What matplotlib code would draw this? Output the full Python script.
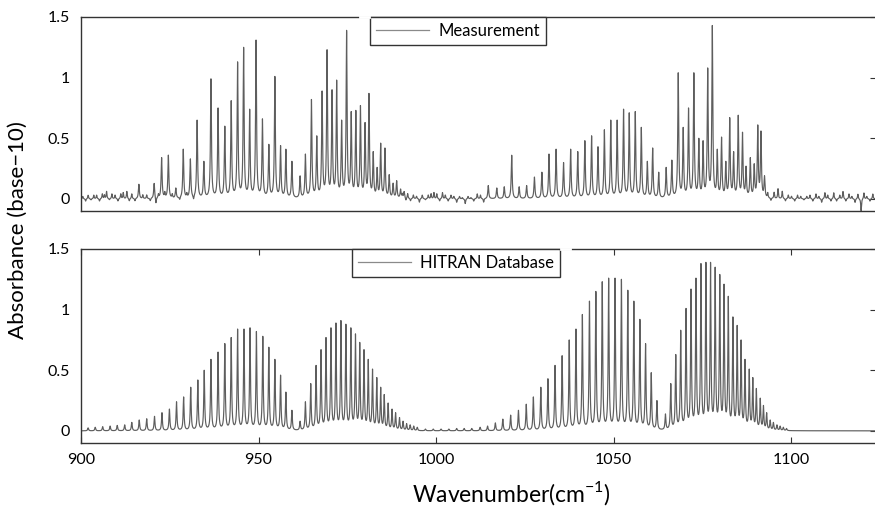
import numpy as np
import matplotlib
matplotlib.use("Agg")
import matplotlib.pyplot as plt

plt.rcParams['font.family'] = ['Lato', 'DejaVu Sans']
plt.rcParams['mathtext.fontset'] = 'custom'
plt.rcParams['mathtext.rm'] = 'Lato'

# ---------------- data ----------------
x_min, x_max = 900, 1123.9
x_ticks = [900, 950, 1000, 1050, 1100]
x_tick_labels = ['900', '950', '1000', '1050', '1100']
y_ticks = [0, 0.5, 1, 1.5]
y_tick_labels = ['0', '0.5', '1', '1.5']

# Measurement: line centres (cm^-1) and peak absorbance
meas_pos = [916.3, 920.6, 922.7, 924.6, 926.7, 928.8, 930.8, 932.7, 934.6, 936.6,
            938.6, 940.5, 942.3, 944.1, 945.8, 947.5, 949.3, 951.1, 952.9, 954.6,
            956.2, 957.7, 959.4, 961.7, 963.2, 964.9, 966.4, 967.9, 969.3, 970.7,
            972.0, 973.4, 974.8, 976.1, 977.4, 978.7, 980.0, 981.1, 982.3, 983.4,
            984.4, 985.6, 986.8, 987.9, 988.9, 990.0, 991.0,
            1014.7, 1017.1, 1019.2, 1021.3, 1023.4, 1025.5, 1027.7, 1029.8, 1031.8, 1033.8,
            1035.9, 1037.9, 1039.9, 1041.9, 1043.8, 1045.6, 1047.4, 1049.2, 1051.0, 1052.8,
            1054.4, 1056.1, 1057.8, 1059.5, 1061.0, 1062.7, 1064.8, 1066.4, 1068.2, 1069.6,
            1071.1, 1072.6, 1074.0, 1075.2, 1076.5, 1077.8, 1079.2, 1080.4, 1081.6, 1082.7,
            1083.8, 1085.1, 1086.3, 1087.3, 1088.5, 1089.6, 1090.6, 1091.5, 1092.5]
meas_peak = [0.12, 0.13, 0.34, 0.36, 0.09, 0.41, 0.33, 0.65, 0.31, 0.99,
             0.75, 0.60, 0.81, 1.13, 1.25, 0.74, 1.31, 0.66, 0.45, 1.01,
             0.44, 0.41, 0.31, 0.19, 0.37, 0.82, 0.52, 0.89, 1.23, 0.90,
             0.98, 0.65, 1.39, 0.72, 0.73, 0.77, 0.63, 0.87, 0.39, 0.26,
             0.46, 0.42, 0.20, 0.13, 0.15, 0.08, 0.06,
             0.11, 0.09, 0.10, 0.36, 0.10, 0.11, 0.18, 0.22, 0.37, 0.41,
             0.30, 0.41, 0.39, 0.48, 0.52, 0.43, 0.57, 0.65, 0.65, 0.74,
             0.71, 0.72, 0.59, 0.31, 0.42, 0.22, 0.26, 0.32, 1.04, 0.59,
             0.75, 1.04, 0.50, 0.48, 1.08, 1.43, 0.41, 0.51, 0.31, 0.67,
             0.39, 0.69, 0.55, 0.27, 0.34, 0.29, 0.61, 0.56, 0.19]

# Measurement: small baseline wiggles (estimated)
meas_noise_pos = [900.5, 901.3, 902.0, 902.8, 903.6, 904.4, 905.2, 906.0, 906.6, 907.2,
                  908.0, 908.7, 909.6, 910.4, 911.2, 911.9, 912.9, 913.6, 914.3, 915.2,
                  917.4, 918.5, 919.5, 921.1, 921.8, 923.6, 925.7, 927.8, 929.8, 931.7,
                  990.5, 991.5, 992.0, 992.8, 993.6, 994.5, 995.3, 996.1, 997.0, 997.8,
                  998.6, 999.4, 1000.2, 1001.0, 1001.8, 1002.6, 1003.4, 1004.2, 1005.0, 1005.8,
                  1006.6, 1007.4, 1008.2, 1009.0, 1009.8, 1010.6, 1011.6, 1012.5, 1013.4,
                  1093.4, 1094.3, 1095.2, 1096.3, 1097.5, 1098.4, 1099.2, 1100.1, 1101.0, 1101.8,
                  1102.7, 1103.6, 1104.4, 1105.3, 1106.1, 1107.0, 1107.8, 1108.6, 1109.5, 1110.3,
                  1111.2, 1112.0, 1112.8, 1113.7, 1114.6, 1115.4, 1116.3, 1117.1, 1118.0, 1118.8,
                  1119.7, 1120.5, 1121.3, 1122.2, 1123.0]
meas_noise_amp = [0.02, -0.02, 0.03, -0.01, 0.03, 0.03, -0.02, 0.04, 0.03, 0.06,
                  -0.01, 0.04, 0.03, -0.02, 0.04, 0.05, 0.06, -0.02, 0.04, -0.02,
                  0.03, 0.03, -0.02, -0.05, 0.03, 0.04, 0.03, -0.02, 0.03, -0.03,
                  0.03, -0.02, 0.04, -0.02, 0.03, 0.02, -0.03, 0.03, -0.01, 0.03,
                  0.04, 0.05, 0.04, -0.02, 0.05, 0.03, -0.02, 0.03, 0.02, -0.03,
                  0.02, 0.01, -0.04, 0.02, 0.01, -0.02, 0.04, 0.03, -0.03,
                  0.04, -0.02, 0.05, 0.08, 0.06, -0.02, 0.03, 0.02, -0.02, 0.03,
                  0.02, -0.01, 0.02, 0.03, -0.02, 0.04, 0.02, -0.03, 0.05, 0.03,
                  -0.02, 0.05, -0.02, 0.03, 0.06, -0.02, 0.04, 0.02, -0.03, 0.04,
                  -0.10, 0.05, 0.02, -0.02, 0.04]

# HITRAN database: line centres (cm^-1) and peak absorbance
hitran_pos = [902.0, 904.0, 906.1, 908.2, 910.2, 912.3, 914.3,
              916.4, 918.5, 920.7, 922.8, 924.9, 926.9, 928.9, 930.9, 932.9, 934.7,
              936.6, 938.6, 940.5, 942.3, 944.1, 945.9, 947.6, 949.4, 951.2, 952.9,
              954.6, 956.2, 957.7, 959.4, 961.7, 963.2, 964.7, 966.2, 967.6, 969.0,
              970.4, 971.8, 973.2, 974.6, 976.0, 977.3, 978.5, 979.7, 980.9, 982.1,
              983.3, 984.4, 985.4, 986.5, 987.6, 988.6, 989.7, 990.7, 991.7, 992.7,
              993.7, 994.7, 997.0, 999.2, 1001.4, 1003.6, 1005.8, 1007.9,
              1010.05, 1012.4, 1014.5, 1016.7, 1018.8, 1021.0, 1023.2, 1025.4, 1027.4, 1029.5,
              1031.5, 1033.5, 1035.5, 1037.5, 1039.4, 1041.2, 1043.2, 1045.0, 1046.8, 1048.6,
              1050.4, 1052.2, 1054.0, 1055.7, 1057.4, 1059.0, 1060.6, 1062.2, 1064.6, 1066.1,
              1067.5, 1068.9, 1070.4, 1071.8, 1073.2, 1074.6, 1076.0, 1077.3, 1078.6, 1079.9,
              1081.1, 1082.3, 1083.6, 1084.8, 1085.9, 1087.0, 1088.2, 1089.2, 1090.2, 1091.3,
              1092.2, 1093.1, 1094.1, 1095.0, 1096.0, 1096.9, 1097.8, 1098.7]
hitran_peak = [0.025, 0.03, 0.035, 0.04, 0.045, 0.05, 0.07,
               0.09, 0.10, 0.12, 0.15, 0.18, 0.24, 0.28, 0.36, 0.42, 0.50,
               0.59, 0.65, 0.72, 0.77, 0.84, 0.84, 0.85, 0.82, 0.78, 0.69,
               0.59, 0.46, 0.32, 0.17, 0.08, 0.24, 0.39, 0.54, 0.67, 0.77,
               0.85, 0.89, 0.91, 0.88, 0.85, 0.80, 0.73, 0.67, 0.59, 0.51,
               0.44, 0.36, 0.30, 0.23, 0.18, 0.15, 0.11, 0.08, 0.06, 0.05,
               0.04, 0.03, 0.015, 0.015, 0.015, 0.015, 0.02, 0.02,
               0.02, 0.03, 0.04, 0.066, 0.097, 0.13, 0.17, 0.22, 0.28, 0.36,
               0.43, 0.54, 0.62, 0.75, 0.84, 0.96, 1.07, 1.15, 1.23, 1.26,
               1.26, 1.25, 1.16, 1.07, 0.92, 0.72, 0.48, 0.25, 0.14, 0.39,
               0.63, 0.83, 1.01, 1.17, 1.26, 1.38, 1.39, 1.39, 1.35, 1.29,
               1.21, 1.11, 0.94, 0.87, 0.75, 0.59, 0.51, 0.44, 0.35, 0.27,
               0.21, 0.15, 0.09, 0.07, 0.05, 0.04, 0.03, 0.02]

# ---------------- spectrum synthesis (Lorentzian line shape) ----------------
wn = np.arange(x_min, x_max, 0.02)


def lorentz(x, x0, g):
    return g * g / ((x - x0) ** 2 + g * g)


def spectrum(pos, peak, g):
    pos = np.asarray(pos)
    peak = np.asarray(peak)
    # amplitudes such that the summed spectrum reaches the read peak values
    A = lorentz(pos[:, None], pos[None, :], g)
    amp = np.linalg.solve(A, peak)
    return (amp[None, :] * lorentz(wn[:, None], pos[None, :], g)).sum(axis=1)


meas = spectrum(meas_pos, meas_peak, 0.16)
meas = meas + (np.asarray(meas_noise_amp)[None, :] *
               lorentz(wn[:, None], np.asarray(meas_noise_pos)[None, :], 0.12)).sum(axis=1)
hitran = spectrum(hitran_pos, hitran_peak, 0.15)

# ---------------- figure ----------------
W, H = 875, 509
fig = plt.figure(figsize=(W / 100, H / 100), dpi=100)

left = 81 / W
width = (876 - 81) / W
ax1 = fig.add_axes([left, 1 - 211 / H, width, (211 - 17) / H])
ax2 = fig.add_axes([left, 1 - 443 / H, width, (443 - 249) / H])

line_col = '#5e5e5e'
spine_col = '#333333'

legends = []
for ax, y, lab, lx in [(ax1, meas, 'Measurement', (370 - 81) / 795),
                       (ax2, hitran, 'HITRAN Database', (352 - 81) / 795)]:
    ax.plot(wn, y, color=line_col, lw=0.85, label=lab)
    ax.set_xlim(x_min, x_max)
    ax.set_ylim(-0.1, 1.5)
    ax.set_yticks(y_ticks)
    ax.set_yticklabels(y_tick_labels)
    for s in ['left', 'top', 'bottom']:
        ax.spines[s].set_color(spine_col)
        ax.spines[s].set_linewidth(1.0)
    ax.spines['right'].set_visible(False)
    ax.tick_params(axis='y', which='both', left=False, right=True, labelleft=True,
                   labelright=False, direction='in', length=4, width=0.8,
                   color=spine_col, labelsize=11.5, pad=8)
    leg = ax.legend(loc='upper left', bbox_to_anchor=(lx, 1.0), borderaxespad=0,
                    frameon=True, fancybox=False, framealpha=1, edgecolor=spine_col,
                    fontsize=12, handlelength=3.2, handletextpad=0.55,
                    borderpad=0.35)
    leg.get_frame().set_linewidth(1.0)
    leg.get_lines()[0].set_color('#8a8a8a')
    leg.get_lines()[0].set_linewidth(0.9)
    legends.append(leg)

ax1.set_xticks(x_ticks)
ax1.tick_params(axis='x', bottom=False, top=False, labelbottom=False)

ax2.set_xticks(x_ticks)
ax2.set_xticklabels(x_tick_labels)
ax2.tick_params(axis='x', bottom=True, top=True, direction='in', length=4, width=0.8,
                color=spine_col, labelsize=11.5, pad=7)

fig.text(18 / W, 1 - 230 / H, 'Absorbance (base\u221210)', rotation=90,
         ha='center', va='center', fontsize=16)
fig.text(511 / W, 1 - 493 / H, r'Wavenumber(cm$^{\mathregular{-1}}$)',
         ha='center', va='center', fontsize=16.5)

# white margin of the legend boxes interrupting the top border
fig.canvas.draw()
inv = fig.transFigure.inverted()
for ax, leg, side in [(ax1, legends[0], 'left'), (ax2, legends[1], 'right')]:
    bb = leg.get_window_extent()
    ytop = ax.get_position().y1
    if side == 'left':
        x0, x1 = bb.x0 - 10, bb.x0 - 1
    else:
        x0, x1 = bb.x1 + 1, bb.x1 + 10
    fx0 = inv.transform((x0, 0))[0]
    fx1 = inv.transform((x1, 0))[0]
    fig.add_artist(plt.Line2D([fx0, fx1], [ytop, ytop], color='white', lw=2.0,
                              zorder=10, transform=fig.transFigure))

fig.savefig('out.png', dpi=100)
